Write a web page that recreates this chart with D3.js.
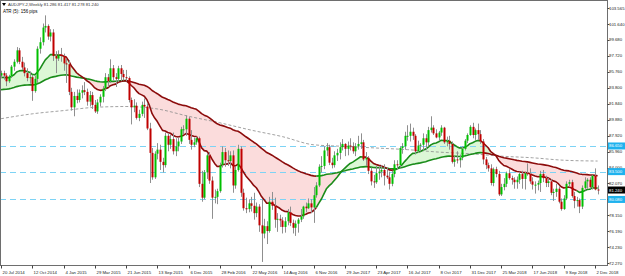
<!DOCTYPE html>
<html><head><meta charset="utf-8">
<script src="https://cdn.jsdelivr.net/npm/d3@7"></script>
<style>
html,body{margin:0;padding:0;background:#fff;}
svg{display:block;font-family:"Liberation Sans",Arial,sans-serif;}
</style></head><body>
<svg id="chart" width="625" height="276"></svg>
<script>
// ---------- DATA ----------
const startDate = "2014-07-20"; // first weekly bar
const opens = [
95.3,95.6,95.3,94.6,95.2,96.4,97.0,98.4,97.0,96.3,
95.6,95.0,95.1,93.4,94.9,98.6,99.4,101.2,101.4,100.1,
100.6,97.7,97.4,97.9,97.7,96.8,96.7,93.3,91.4,92.8,
92.3,93.2,93.5,93.3,92.1,92.9,91.7,90.9,92.0,92.7,
93.7,95.1,94.6,96.2,95.1,94.9,96.2,95.5,95.1,95.0,
92.3,91.4,91.6,90.1,90.6,91.7,91.5,88.8,85.8,82.8,
85.7,86.2,84.7,84.3,87.9,86.8,87.5,86.0,86.6,87.2,
88.7,88.7,90.0,87.4,86.8,87.1,87.6,82.0,80.3,83.4,
85.5,82.4,80.3,80.4,81.1,84.3,85.9,84.9,84.8,85.5,
81.8,83.7,86.3,80.9,79.0,78.9,79.6,79.3,78.4,79.2,
76.9,75.9,76.8,76.2,79.8,79.3,77.6,77.7,77.5,76.7,
77.4,78.5,77.2,76.6,77.1,77.6,78.0,79.2,79.0,79.6,
79.1,80.6,81.8,84.1,84.2,86.1,86.5,84.6,84.3,85.5,
85.8,86.5,86.9,86.3,86.7,86.6,86.0,86.6,86.9,87.1,
85.0,85.2,83.6,82.3,82.2,83.3,83.5,83.7,83.0,82.8,
82.0,83.2,84.4,84.3,86.4,86.6,87.9,87.9,88.4,87.9,
86.0,86.7,86.8,87.6,87.1,88.6,88.9,88.2,87.7,88.3,
88.9,87.1,87.3,86.9,84.7,85.0,84.9,85.2,86.3,87.3,
88.0,89.0,88.0,88.6,88.1,87.2,85.0,84.3,83.9,82.1,
83.8,83.2,80.7,81.6,82.0,83.3,82.7,82.5,82.2,82.5,
83.2,82.6,83.3,83.2,82.3,81.9,81.9,82.1,83.2,82.7,
82.1,82.3,80.9,81.0,81.4,79.8,78.9,80.2,82.0,82.2,
80.5,79.9,80.0,79.2,81.5,82.3,82.5,81.6,83.0,81.3];
const highs = [
95.9,95.9,95.6,95.4,96.6,97.3,98.8,98.7,97.6,96.9,
96.2,95.8,95.4,95.3,98.9,100.0,101.7,102.7,101.6,101.0,
101.0,98.3,98.4,98.7,98.0,97.4,97.2,93.8,93.3,93.6,
93.6,94.1,94.5,93.7,93.4,93.3,92.3,92.4,93.0,94.0,
95.6,95.5,97.3,96.6,95.6,96.5,96.6,96.0,96.0,95.2,
92.6,92.4,92.0,91.1,92.1,92.5,91.9,89.5,86.4,86.0,
87.0,86.8,85.2,88.3,88.2,88.0,88.3,87.6,87.7,89.0,
89.2,90.4,90.2,88.6,87.7,87.8,87.8,83.6,83.7,85.8,
85.9,82.9,81.3,81.4,84.6,86.6,86.4,86.1,86.0,86.1,
84.1,86.8,86.6,81.4,80.3,80.1,80.4,80.9,79.7,79.5,
80.1,77.7,77.4,80.4,81.0,80.3,78.4,78.2,77.9,77.9,
78.9,79.2,77.6,77.5,77.8,78.9,79.3,79.7,80.2,80.1,
81.6,82.2,84.4,85.4,86.6,87.0,86.8,85.2,86.0,86.3,
87.1,87.5,87.0,87.2,87.6,87.1,87.0,87.9,88.2,87.4,
85.9,85.4,84.0,83.1,84.2,84.2,84.3,84.4,84.0,83.5,
83.6,84.9,84.9,86.6,87.0,88.4,89.2,89.4,88.9,88.1,
87.3,87.0,88.2,88.1,89.0,90.3,89.2,88.7,88.5,89.2,
89.0,87.8,87.9,87.2,85.4,86.0,85.6,86.6,87.5,88.2,
89.2,89.5,88.8,89.4,88.6,87.5,85.3,84.6,84.4,84.0,
84.1,83.6,82.0,82.7,83.5,83.8,83.0,82.8,82.9,83.5,
83.6,83.5,84.5,83.9,82.8,82.3,82.4,83.6,83.7,83.0,
82.7,82.6,81.4,82.0,81.7,80.2,80.6,82.3,82.5,82.5,
81.0,80.4,80.2,81.8,82.8,82.7,82.8,83.1,83.9,81.8];
const lows = [
95.0,94.8,94.0,94.4,95.0,95.9,96.8,96.7,96.0,95.2,
94.6,94.3,92.2,93.2,94.4,98.0,99.0,100.6,99.7,99.5,
97.1,95.6,97.1,97.0,95.9,94.4,92.9,91.0,90.3,91.9,
92.0,92.5,92.9,91.6,91.5,91.2,90.7,90.6,91.5,92.0,
93.4,93.9,94.4,94.7,93.9,94.5,94.6,94.7,94.6,92.0,
89.3,90.8,89.9,89.7,90.3,90.1,88.6,82.1,82.5,82.6,
85.0,83.7,83.4,84.0,86.0,86.3,85.6,85.4,86.0,86.9,
88.1,87.9,86.9,86.2,86.5,86.8,81.6,79.8,80.1,82.6,
82.0,77.7,79.6,79.5,80.9,84.0,84.1,84.2,83.9,80.9,
81.4,83.5,80.4,78.7,78.4,78.5,78.6,77.6,77.9,76.1,
72.4,75.3,74.6,76.0,78.8,76.6,76.1,76.7,75.9,76.0,
76.9,76.8,75.9,75.6,76.0,77.3,77.7,78.5,78.9,78.4,
77.2,80.3,81.6,83.4,83.8,85.4,84.3,83.9,84.0,84.8,
85.0,86.1,85.4,85.5,86.1,85.7,85.4,86.2,86.3,84.8,
84.2,83.2,81.8,81.5,82.0,82.5,82.8,81.8,82.6,81.3,
81.7,82.8,83.7,84.0,85.7,86.2,87.3,87.2,87.4,85.6,
85.8,86.0,86.1,86.2,86.6,88.3,88.0,87.6,87.3,87.9,
86.9,86.6,86.2,84.5,84.1,84.5,84.0,84.9,86.1,87.0,
87.9,87.6,87.4,87.4,86.9,84.4,83.8,83.5,81.8,81.7,
82.8,80.5,80.5,81.2,81.6,82.5,81.9,81.4,81.4,82.0,
81.4,81.3,83.0,82.0,81.3,80.8,81.2,81.0,82.2,81.6,
81.6,80.6,79.9,80.4,79.6,78.7,78.8,80.0,81.6,80.3,
79.0,79.2,78.4,78.9,81.2,81.4,81.4,81.3,81.2,80.7];
const closes = [
95.6,95.3,94.6,95.2,96.4,97.0,98.4,97.0,96.3,95.6,
95.0,95.1,93.4,94.9,98.6,99.4,101.2,101.4,100.1,100.6,
97.7,97.4,97.9,97.7,96.8,96.7,93.3,91.4,92.8,92.3,
93.2,93.5,93.3,92.1,92.9,91.7,90.9,92.0,92.7,93.7,
95.1,94.6,96.2,95.1,94.9,96.2,95.5,95.1,95.0,92.3,
91.4,91.6,90.1,90.6,91.7,91.5,88.8,85.8,82.8,85.7,
86.2,84.7,84.3,87.9,86.8,87.5,86.0,86.6,87.2,88.7,
88.7,90.0,87.4,86.8,87.1,87.6,82.0,80.3,83.4,85.5,
82.4,80.3,80.4,81.1,84.3,85.9,84.9,84.8,85.5,81.8,
83.7,86.3,80.9,79.0,78.9,79.6,79.3,78.4,79.2,76.9,
75.9,76.8,76.2,79.8,79.3,77.6,77.7,77.5,76.7,77.4,
78.5,77.2,76.6,77.1,77.6,78.0,79.2,79.0,79.6,79.1,
80.6,81.8,84.1,84.2,86.1,86.5,84.6,84.3,85.5,85.8,
86.5,86.9,86.3,86.7,86.6,86.0,86.6,86.9,87.1,85.0,
85.2,83.6,82.3,82.2,83.3,83.5,83.7,83.0,82.8,82.0,
83.2,84.4,84.3,86.4,86.6,87.9,87.9,88.4,87.9,86.0,
86.7,86.8,87.6,87.1,88.6,88.9,88.2,87.7,88.3,88.9,
87.1,87.3,86.9,84.7,85.0,84.9,85.2,86.3,87.3,88.0,
89.0,88.0,88.6,88.1,87.2,85.0,84.3,83.9,82.1,83.8,
83.2,80.7,81.6,82.0,83.3,82.7,82.5,82.2,82.5,83.2,
82.6,83.3,83.2,82.3,81.9,81.9,82.1,83.2,82.7,82.1,
82.3,80.9,81.0,81.4,79.8,78.9,80.2,82.0,82.2,80.5,
79.9,80.0,79.2,81.5,82.3,82.5,81.6,83.0,81.3,81.24];

// moving averages: EMA periods and their values just before the first bar
const fastPeriod = 17, fastSeed = 95.0;
const slowPeriod = 75, slowSeed = 93.5;
// bar ranges where each average is drawn green (rising)
const fastUp = [[0,21],[121,139],[151,184],[221,229]];
const slowUp = [[0,48],[121,185]];
// long average (grey dashed), read every 12 weeks
const grayIdx = [0,12,24,36,48,60,72,84,96,108,120,132,144,156,168,180,192,204,216,229];
const grayVals = [90.0,90.6,91.0,91.4,91.5,91.2,90.3,89.5,88.6,87.8,86.8,86.6,86.4,86.2,85.9,85.7,85.4,85.2,84.9,84.8];

const xLabels = ["20 Jul 2014","12 Oct 2014","4 Jan 2015","29 Mar 2015","21 Jun 2015","13 Sep 2015","6 Dec 2015","28 Feb 2016","22 May 2016","14 Aug 2016","6 Nov 2016","29 Jan 2017","23 Apr 2017","16 Jul 2017","8 Oct 2017","31 Dec 2017","25 Mar 2018","17 Jun 2018","9 Sep 2018","2 Dec 2018"];
const yLabels = ["103.565","101.640","99.680","97.720","95.760","93.800","91.840","89.880","87.920","85.960","84.000","82.070","80.110","78.150","76.190","74.230","72.270"];
const levelValues = [86.65, 83.50, 80.08];
const levelLabels = ["86.650","83.500","80.080"];
const lastPrice = 81.24, lastLabel = "81.240";
const headerText = "AUDJPY-2,Weekly  81.286 81.417 81.278 81.240";
const atrText = "ATR (5): 156 pips";

// ---------- CHART ----------
const plotR = 607, plotB = 265;
const svg = d3.select("#chart");
const parse = d3.timeParse("%Y-%m-%d");
const parseLbl = d3.timeParse("%d %b %Y");
const t0 = parse(startDate);
const n = closes.length;
const dates = d3.range(n).map(i => d3.timeWeek.offset(t0, i));
const x = d3.scaleTime().domain([parse("2014-07-20"), parse("2018-12-02")]).range([1, 595]);
const y = d3.scaleLinear().domain([72.27, 101.64]).range([263, 24]);
const X = i => x(dates[i]);

function ema(vals, period, seed){ const a = 2/(period+1); let e = seed; return vals.map(v => (e = e + a*(v - e))); }
const fast = ema(closes, fastPeriod, fastSeed);
const slow = ema(closes, slowPeriod, slowSeed);

const GREEN = "#1a8c1a", RED = "#8c0c0c";
const defs = svg.append("defs");
defs.append("clipPath").attr("id","plot").append("rect").attr("x",0).attr("y",0).attr("width",plotR).attr("height",plotB);
const idx = d3.range(n);
defs.append("clipPath").attr("id","aboveSlow").append("path")
  .attr("d", d3.area().x(X).y0(0).y1(i => y(slow[i]))(idx));
defs.append("clipPath").attr("id","belowSlow").append("path")
  .attr("d", d3.area().x(X).y0(plotB).y1(i => y(slow[i]))(idx));

const g = svg.append("g").attr("clip-path","url(#plot)");
const band = d3.area().x(X).y0(i => y(slow[i])).y1(i => y(fast[i]));
g.append("g").attr("clip-path","url(#aboveSlow)").append("path").attr("d", band(idx)).attr("fill","#dcf7d6");
g.append("g").attr("clip-path","url(#belowSlow)").append("path").attr("d", band(idx)).attr("fill","#fbdcdc");

// horizontal level lines
levelValues.forEach(v => {
  g.append("line").attr("x1",0).attr("x2",plotR).attr("y1",Math.round(y(v))+0.5).attr("y2",Math.round(y(v))+0.5)
    .attr("stroke","#7dd3f5").attr("stroke-width",1).attr("stroke-dasharray","6,4");
});

// grey long average
g.append("path").attr("d", d3.line().curve(d3.curveMonotoneX).x((d,k)=>X(grayIdx[k])).y(d=>y(d))(grayVals))
  .attr("fill","none").attr("stroke","#8a8a8a").attr("stroke-width",0.8).attr("stroke-dasharray","3,2");

// coloured averages
function coloured(vals, ranges){
  const segs = []; let cur = null;
  for (let i = 0; i < n-1; i++){
    const up = ranges.some(([a,b]) => i >= a && i < b);
    const c = up ? GREEN : RED;
    if (!cur || cur.c !== c){ cur = {c, pts:[i]}; segs.push(cur); }
    cur.pts.push(i+1);
  }
  const ln = d3.line().x(X).y(i => y(vals[i]));
  segs.forEach(s => g.append("path").attr("d", ln(s.pts)).attr("fill","none")
    .attr("stroke", s.c).attr("stroke-width",1.6).attr("stroke-linejoin","round"));
}
coloured(slow, slowUp);
coloured(fast, fastUp);

// candles
const cg = g.append("g");
idx.forEach(i => {
  const cx = Math.round(X(i));
  cg.append("line").attr("x1",cx+0.5).attr("x2",cx+0.5).attr("y1",y(highs[i])).attr("y2",y(lows[i]))
    .attr("stroke","#8f8f8f").attr("stroke-width",1);
  const up = closes[i] >= opens[i];
  const top = y(Math.max(opens[i],closes[i])), bot = y(Math.min(opens[i],closes[i]));
  cg.append("rect").attr("x",cx-0.5).attr("width",2).attr("y",top).attr("height",Math.max(1,bot-top))
    .attr("fill", up ? "#00c000" : "#c00000");
});

// frame
svg.append("rect").attr("x",0.5).attr("y",0.5).attr("width",plotR).attr("height",plotB)
  .attr("fill","none").attr("stroke","#6e6e6e").attr("stroke-width",1);

// y axis labels
const fs = 4.3;
yLabels.forEach(s => {
  const v = +s; const yy = y(v);
  svg.append("line").attr("x1",plotR+0.5).attr("x2",plotR+2.5).attr("y1",Math.round(yy)+0.5).attr("y2",Math.round(yy)+0.5).attr("stroke","#444");
  svg.append("text").attr("x",609).attr("y",yy).attr("dy","0.35em").attr("font-size",fs).attr("fill","#222").text(s);
});
function box(v, label, fill){
  const yy = y(v);
  svg.append("rect").attr("x",plotR+1).attr("y",yy-3.5).attr("width",18).attr("height",7).attr("fill",fill);
  svg.append("text").attr("x",609).attr("y",yy).attr("dy","0.35em").attr("font-size",fs).attr("fill","#fff").text(label);
}
levelValues.forEach((v,k) => box(v, levelLabels[k], "#1fb2ee"));
box(lastPrice, lastLabel, "#000");

// x axis labels
xLabels.forEach(s => {
  const xx = Math.round(x(parseLbl(s)));
  svg.append("line").attr("x1",xx+0.5).attr("x2",xx+0.5).attr("y1",plotB+0.5).attr("y2",plotB+3.5).attr("stroke","#444");
  svg.append("text").attr("x",xx+1.5).attr("y",272).attr("dy","0.35em").attr("font-size",fs).attr("fill","#222").text(s);
});

// header
svg.append("path").attr("d","M2,3 L6,3 L4,6 Z").attr("fill","#000");
svg.append("text").attr("x",8).attr("y",4.8).attr("dy","0.35em").attr("font-size",4.2).attr("fill","#333").text(headerText);
svg.append("text").attr("x",3).attr("y",11).attr("dy","0.35em").attr("font-size",5.6)
  .attr("textLength",34.5).attr("lengthAdjust","spacingAndGlyphs").attr("fill","#000").text(atrText);
</script>
</body></html>
